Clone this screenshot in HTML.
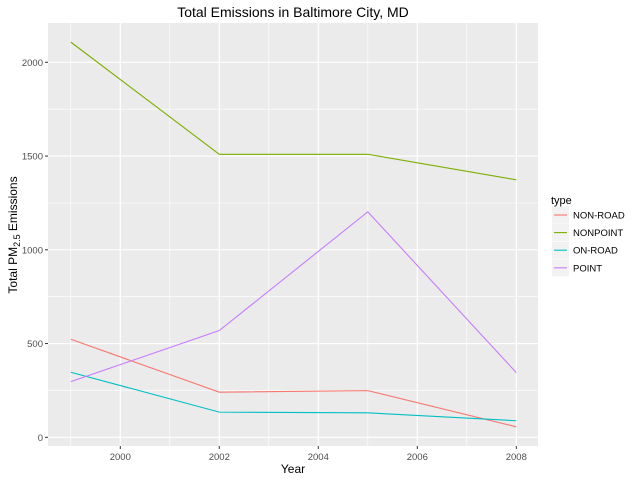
<!DOCTYPE html>
<html><head><meta charset="utf-8"><style>
body{margin:0;background:#fff;}
svg text{font-family:"Liberation Sans",Arial,sans-serif;}
</style></head><body>
<svg id="c" width="640" height="480" xmlns="http://www.w3.org/2000/svg">
<rect x="0" y="0" width="640" height="480" fill="#fff"/>
<rect x="48" y="23" width="490" height="423" fill="#ebebeb"/>
<g id="grid"></g>
<g id="series"></g>
<g id="axes"></g>
<text x="293" y="17" text-anchor="middle" font-size="14" fill="#000">Total Emissions in Baltimore City, MD</text>
<text x="293" y="473" text-anchor="middle" font-size="12" fill="#000">Year</text>
<text transform="translate(17,235) rotate(-90)" text-anchor="middle" font-size="12" fill="#000">Total PM<tspan font-size="9" dy="3">2.5</tspan><tspan dy="-3"> Emissions</tspan></text>
<g id="legend"></g>
</svg>
<script>
const years=[1999,2002,2005,2008];
const types=["NON-ROAD","NONPOINT","ON-ROAD","POINT"];
const colors=["#f8766d","#7cae00","#00bfc4","#c77cff"];
const nonRoad=[522.9,240.8,248.9,55.8];
const nonPoint=[2107.6,1509.5,1509.5,1373.2];
const onRoad=[346.8,134.3,130.4,88.3];
const point=[296.8,569.3,1202.5,345.0];
const xTicks=[2000,2002,2004,2006,2008];
const yTicks=[0,500,1000,1500,2000];
const ns="http://www.w3.org/2000/svg";
const X=v=>70.8+(v-1999)*49.5;
const Y=v=>437.3-v*0.1875;
function mk(t,a,p){const e=document.createElementNS(ns,t);for(const k in a)e.setAttribute(k,a[k]);p.appendChild(e);return e;}
const g=document.getElementById('grid'),ax=document.getElementById('axes');
for(let y=1999;y<=2007;y+=2){const l=mk('line',{x1:X(y),x2:X(y),y1:23,y2:446,stroke:'#fff','stroke-width':0.6},g);

}
for(let v=250;v<=2000;v+=500){const l=mk('line',{x1:48,x2:538,y1:Y(v),y2:Y(v),stroke:'#fff','stroke-width':0.6},g);

}
xTicks.forEach(t=>{const l=mk('line',{x1:X(t),x2:X(t),y1:23,y2:446,stroke:'#fff','stroke-width':1.2},g);


mk('line',{x1:X(t),x2:X(t),y1:446,y2:449,stroke:'#333'},ax);
const tx=mk('text',{x:X(t),y:460,'text-anchor':'middle','font-size':9.5,fill:'#4d4d4d'},ax);tx.textContent=t;

});
yTicks.forEach(t=>{const l=mk('line',{x1:48,x2:538,y1:Y(t),y2:Y(t),stroke:'#fff','stroke-width':1.2},g);


mk('line',{x1:45,x2:48,y1:Y(t),y2:Y(t),stroke:'#333'},ax);
const tx=mk('text',{x:43,y:Y(t)+3.5,'text-anchor':'end','font-size':9.5,fill:'#4d4d4d'},ax);tx.textContent=t;

});
const s=document.getElementById('series');
[nonRoad,nonPoint,onRoad,point].forEach((d,i)=>{const p=mk('polyline',{points:d.map((v,j)=>X(years[j])+','+Y(v)).join(' '),fill:'none',stroke:colors[i],'stroke-width':1.1},s);

});
const lg=document.getElementById('legend');
const tt=mk('text',{x:551,y:204,'font-size':11,fill:'#000'},lg);tt.textContent='type';


types.forEach((t,i)=>{const cy=215+i*17.6;
const gg=mk('g',{},lg);


mk('rect',{x:552,y:cy-8.5,width:17,height:17,fill:'#f2f2f2'},gg);
mk('line',{x1:554,x2:567,y1:cy,y2:cy,stroke:colors[i],'stroke-width':1.1},gg);
const tx=mk('text',{x:573,y:cy+3.5,'font-size':9.5,fill:'#000'},gg);tx.textContent=t;});
</script>
</body></html>
